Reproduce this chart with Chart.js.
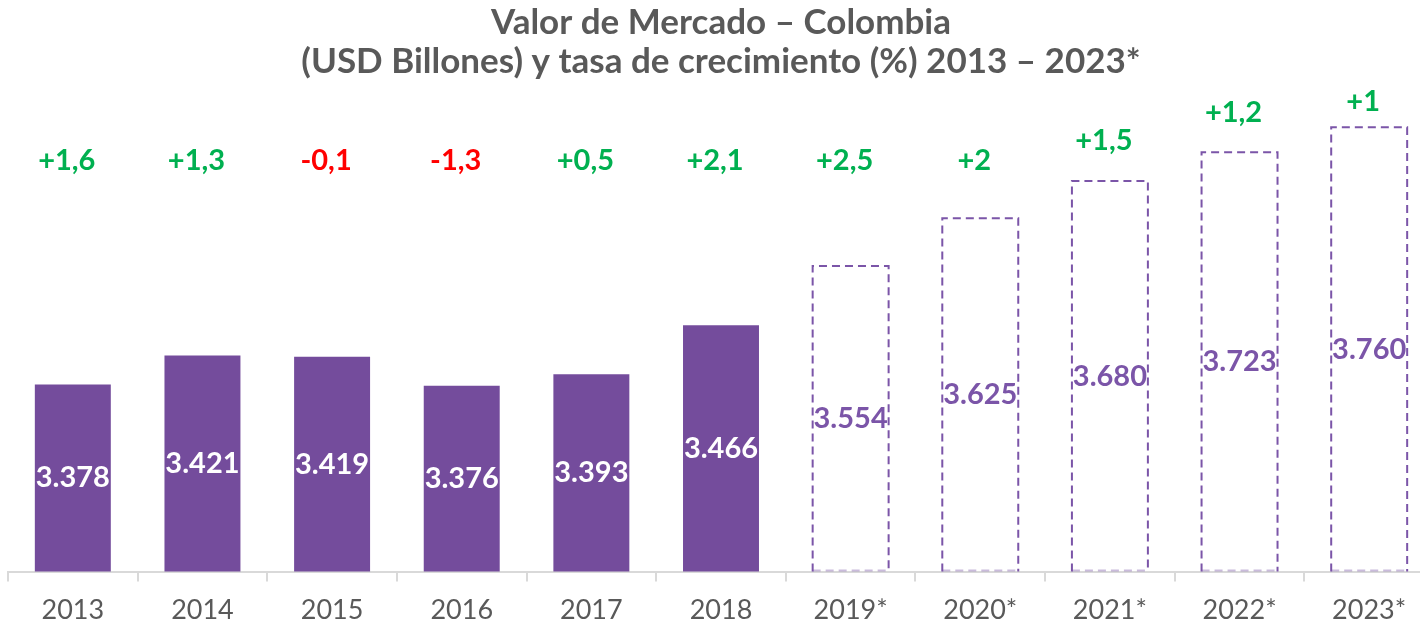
<!DOCTYPE html>
<html lang="es">
<head>
<meta charset="utf-8">
<title>Valor de Mercado – Colombia</title>
<script src="https://cdn.jsdelivr.net/npm/chart.js@4.4.0/dist/chart.umd.min.js"></script>
<style>
    html, body { margin: 0; padding: 0; background: #fff; overflow: hidden; }
    #chartWrap { position: relative; width: 1440px; height: 638px; }
</style>
</head>
<body>
<div id="chartWrap"><canvas id="marketChart"></canvas></div>
<script>
// Chart data
const years = ['2013', '2014', '2015', '2016', '2017', '2018', '2019*', '2020*', '2021*', '2022*', '2023*'];
const marketValue = [3.378, 3.421, 3.419, 3.376, 3.393, 3.466, 3.554, 3.625, 3.680, 3.723, 3.760];
const growthRate = [1.6, 1.3, -0.1, -1.3, 0.5, 2.1, 2.5, 2, 1.5, 1.2, 1];
const isForecast = years.map(y => y.endsWith('*'));

const purple = '#744c9c';
const dashPurple = '#7b55a8';
const green = '#00b050';
const red = '#ff0000';

function formatGrowth(v) {
    const s = String(Math.abs(v)).replace('.', ',');
    return (v < 0 ? '-' : '+') + s;
}

// Dashed outline for forecast bars + value and growth labels
const barLabels = {
    id: 'barLabels',
    afterDatasetsDraw(chart) {
        const ctx = chart.ctx;
        const meta = chart.getDatasetMeta(0);
        const area = chart.chartArea;
        ctx.save();
        meta.data.forEach((bar, i) => {
            const p = bar.getProps(['x', 'y', 'width'], true);
            const base = area.bottom;
            const left = p.x - p.width / 2;
            const right = p.x + p.width / 2;

            if (isForecast[i]) {
                ctx.strokeStyle = dashPurple;
                ctx.lineWidth = 2;
                ctx.setLineDash([8, 5]);
                ctx.beginPath();
                ctx.moveTo(left, base);
                ctx.lineTo(left, p.y);
                ctx.lineTo(right, p.y);
                ctx.lineTo(right, base);
                ctx.stroke();
                ctx.globalAlpha = 0.4;
                ctx.beginPath();
                ctx.moveTo(left, base - 1);
                ctx.lineTo(right, base - 1);
                ctx.stroke();
                ctx.globalAlpha = 1;
                ctx.setLineDash([]);
            }

            // value label, centred in the bar
            ctx.font = 'bold 29px Lato';
            ctx.textAlign = 'center';
            ctx.textBaseline = 'middle';
            ctx.fillStyle = isForecast[i] ? dashPurple : '#ffffff';
            ctx.fillText(marketValue[i].toFixed(3), p.x, (p.y + base) / 2);

            // growth label above
            const gy = Math.max(area.top + 1, Math.min(area.top + 60, p.y - 40));
            ctx.font = 'bold 29px Lato';
            ctx.fillStyle = growthRate[i] < 0 ? red : green;
            ctx.fillText(formatGrowth(growthRate[i]), p.x - 6, gy);
        });
        ctx.restore();
    }
};

document.addEventListener('DOMContentLoaded', function() {
    Chart.defaults.font.family = 'Lato';
    const ctx = document.getElementById('marketChart').getContext('2d');

    new Chart(ctx, {
        type: 'bar',
        data: {
            labels: years,
            datasets: [{
                label: 'Valor de mercado',
                data: marketValue,
                backgroundColor: isForecast.map(f => f ? 'rgba(0,0,0,0)' : purple),
                borderWidth: 0,
                categoryPercentage: 1,
                barPercentage: 0.586
            }]
        },
        options: {
            responsive: true,
            maintainAspectRatio: false,
            animation: false,
            devicePixelRatio: 1,
            layout: {
                padding: { left: 8, right: 6, top: 0, bottom: 0 }
            },
            plugins: {
                legend: { display: false },
                tooltip: { enabled: false },
                title: {
                    display: true,
                    text: ['Valor de Mercado – Colombia', '(USD Billones) y tasa de crecimiento (%) 2013 – 2023*'],
                    color: '#595959',
                    font: { size: 35, weight: 'bold', lineHeight: 1.09 },
                    padding: { top: 4, bottom: 20 }
                }
            },
            scales: {
                y: {
                    display: false,
                    min: 3.1,
                    max: 3.8
                },
                x: {
                    border: { color: '#d9d9d9', width: 2 },
                    grid: {
                        display: true,
                        drawOnChartArea: false,
                        drawTicks: true,
                        tickLength: 10,
                        offset: true,
                        color: '#d9d9d9',
                        lineWidth: 2
                    },
                    ticks: {
                        color: '#595959',
                        font: { size: 27, lineHeight: 1.2 },
                        padding: 12,
                        maxRotation: 0,
                        autoSkip: false
                    }
                }
            }
        },
        plugins: [barLabels]
    });
});
</script>
</body>
</html>
